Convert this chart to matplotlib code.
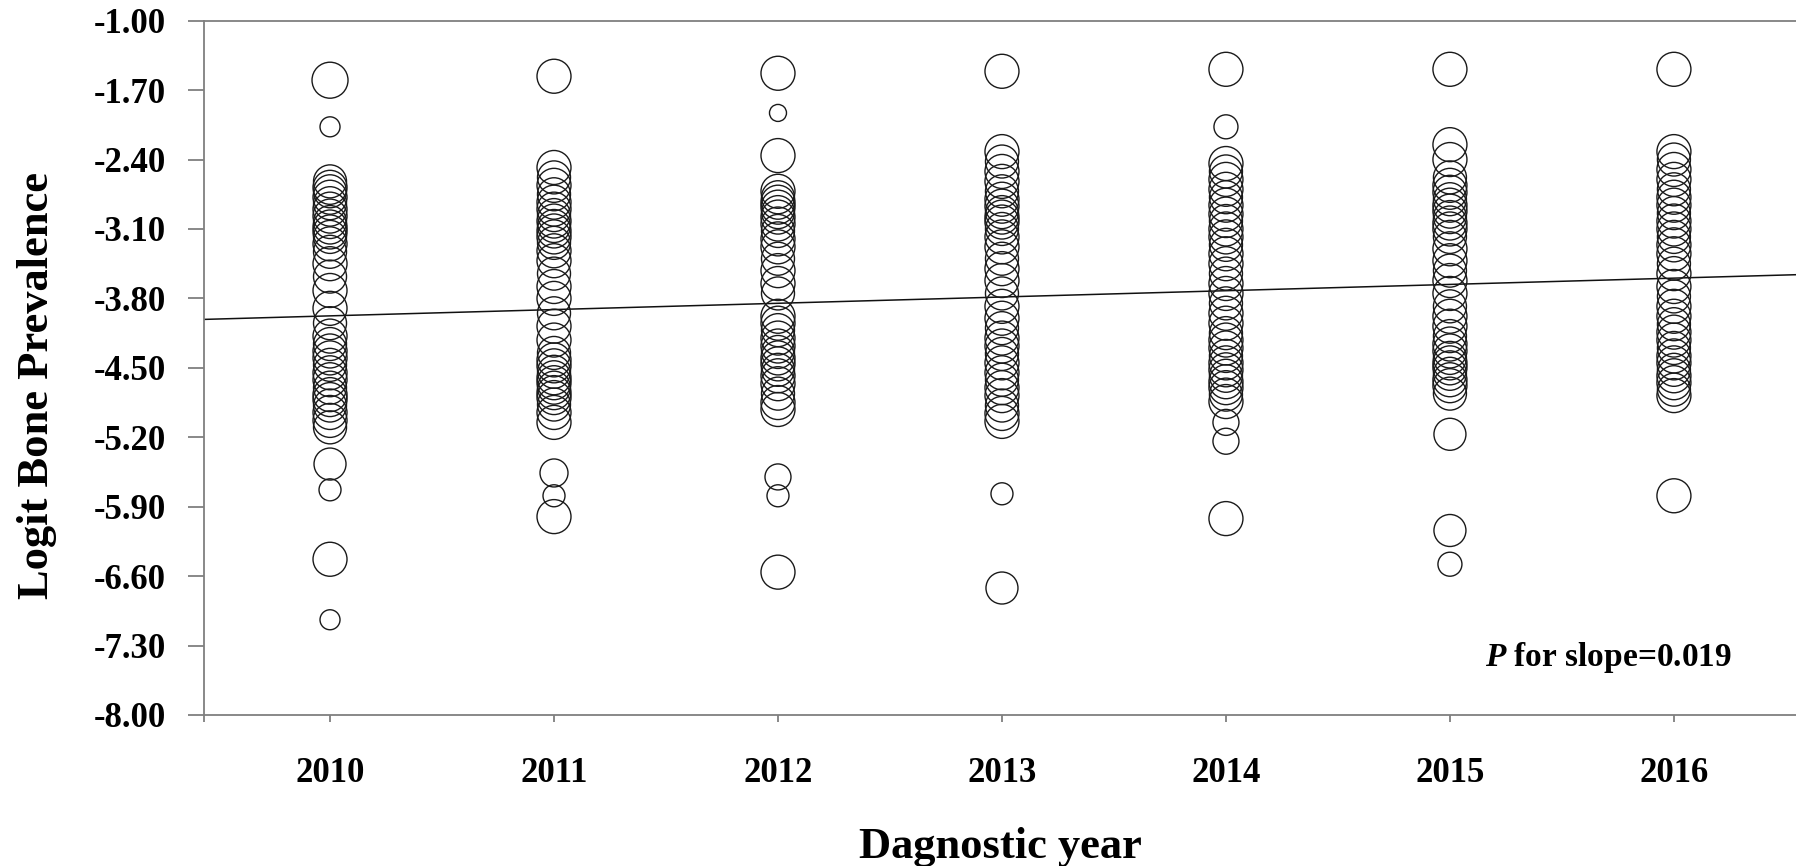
import matplotlib
matplotlib.use("Agg")
import matplotlib.pyplot as plt
import numpy as np

plt.rcParams['font.family'] = ['Liberation Serif', 'DejaVu Serif']
plt.rcParams['mathtext.fontset'] = 'custom'
plt.rcParams['mathtext.it'] = 'Liberation Serif:italic:bold'
plt.rcParams['mathtext.rm'] = 'Liberation Serif:bold'

# ---------------- data ----------------
years = [2010, 2011, 2012, 2013, 2014, 2015, 2016]

y2010 = [-1.60, -2.07, -2.62, -2.68, -2.72, -2.78, -2.84, -2.90, -2.97, -3.03, -3.08, -3.13,
         -3.18, -3.25, -3.33, -3.45, -3.58, -3.72, -3.90, -4.05, -4.18, -4.26, -4.33, -4.40,
         -4.47, -4.55, -4.62, -4.70, -4.77, -4.82, -4.88, -4.95, -5.03, -5.10,
         -5.47, -5.73, -6.43, -7.04]
w2010 = [36, 20, 33, 34, 33, 34, 33, 34, 34, 33, 34, 34,
         33, 34, 33, 34, 33, 34, 34, 33, 34, 33, 34, 34,
         33, 34, 34, 33, 34, 34, 33, 34, 34, 33,
         32, 22, 34, 20]

y2011 = [-1.56, -2.48, -2.58, -2.66, -2.75, -2.83, -2.90, -2.96, -3.02, -3.07, -3.12, -3.18,
         -3.24, -3.32, -3.42, -3.55, -3.68, -3.80, -3.95, -4.08, -4.22, -4.35, -4.42, -4.48,
         -4.54, -4.60, -4.65, -4.70, -4.75, -4.80, -4.87, -4.95, -5.05,
         -5.56, -5.79, -6.00]
w2011 = [34, 34, 33, 34, 33, 34, 34, 33, 34, 33, 34, 34,
         33, 34, 34, 33, 34, 34, 33, 34, 34, 33, 34, 34,
         33, 34, 34, 33, 34, 34, 33, 34, 34,
         28, 22, 34]

y2012 = [-1.53, -1.93, -2.36, -2.72, -2.78, -2.83, -2.88, -2.93, -2.98, -3.05, -3.12, -3.20,
         -3.28, -3.40, -3.52, -3.65, -3.75, -3.98, -4.05, -4.12, -4.20, -4.28, -4.34, -4.40,
         -4.46, -4.52, -4.58, -4.66, -4.76, -4.85, -4.92,
         -5.60, -5.79, -6.56]
w2012 = [34, 17, 34, 34, 33, 34, 34, 33, 34, 34, 33, 34,
         34, 33, 34, 34, 33, 34, 34, 33, 34, 34, 33, 34,
         34, 33, 34, 34, 33, 34, 34,
         26, 22, 34]

y2013 = [-1.51, -2.32, -2.42, -2.52, -2.62, -2.72, -2.80, -2.87, -2.93, -2.98, -3.03, -3.10,
         -3.18, -3.28, -3.40, -3.50, -3.62, -3.75, -3.88, -4.00, -4.10, -4.20, -4.28, -4.36,
         -4.45, -4.55, -4.62, -4.70, -4.78, -4.88, -4.96, -5.04,
         -5.77, -6.72]
w2013 = [34, 34, 33, 34, 34, 33, 34, 34, 33, 34, 34, 33,
         34, 34, 33, 34, 34, 33, 34, 34, 33, 34, 34, 33,
         34, 34, 33, 34, 34, 33, 34, 34,
         22, 32]

y2014 = [-1.49, -2.07, -2.44, -2.52, -2.60, -2.70, -2.78, -2.86, -2.95, -3.02, -3.10, -3.18,
         -3.26, -3.35, -3.45, -3.55, -3.65, -3.75, -3.85, -3.95, -4.05, -4.15, -4.22, -4.30,
         -4.38, -4.45, -4.52, -4.58, -4.64, -4.70, -4.77, -4.84,
         -5.05, -5.24, -6.02]
w2014 = [34, 24, 34, 33, 34, 34, 33, 34, 34, 33, 34, 34,
         33, 34, 34, 33, 34, 34, 33, 34, 34, 33, 34, 34,
         33, 34, 34, 33, 34, 34, 33, 34,
         26, 26, 34]

y2015 = [-1.49, -2.25, -2.40, -2.58, -2.66, -2.73, -2.80, -2.86, -2.92, -2.98, -3.04, -3.10,
         -3.18, -3.30, -3.42, -3.52, -3.62, -3.75, -3.88, -3.98, -4.08, -4.18, -4.26, -4.33,
         -4.40, -4.45, -4.50, -4.56, -4.62, -4.68, -4.76,
         -5.17, -6.14, -6.48]
w2015 = [34, 34, 34, 33, 34, 34, 33, 34, 34, 33, 34, 34,
         33, 34, 34, 33, 34, 34, 33, 34, 34, 33, 34, 34,
         33, 34, 34, 33, 34, 34, 33,
         32, 32, 24]

y2016 = [-1.49, -2.32, -2.40, -2.50, -2.60, -2.70, -2.78, -2.86, -2.94, -3.02, -3.10, -3.18,
         -3.26, -3.35, -3.45, -3.55, -3.68, -3.78, -3.88, -3.98, -4.06, -4.14, -4.22, -4.30,
         -4.38, -4.45, -4.52, -4.58, -4.65, -4.72, -4.78,
         -5.79]
w2016 = [34, 34, 33, 34, 34, 33, 34, 34, 33, 34, 34, 33,
         34, 34, 33, 34, 34, 33, 34, 34, 33, 34, 34, 33,
         34, 34, 33, 34, 34, 33, 34,
         34]

values = [y2010, y2011, y2012, y2013, y2014, y2015, y2016]
weights = [w2010, w2011, w2012, w2013, w2014, w2015, w2016]

fit_intercept = -3.976   # value at 2010
fit_slope = 0.0634       # per year

yticks = [-1.00, -1.70, -2.40, -3.10, -3.80, -4.50, -5.20, -5.90, -6.60, -7.30, -8.00]
annotation = r'$\mathit{P}$ for slope=0.019'

# ---------------- figure ----------------
fig = plt.figure(figsize=(17.96, 8.66), dpi=100)
ax = fig.add_axes([0.1136, 0.1744, 0.8864, 0.8017])

DPI = 100.0
for yr, vals, ws in zip(years, values, weights):
    s = [(w * 72.0 / DPI) ** 2 for w in ws]
    ax.scatter([yr] * len(vals), vals, s=s, facecolors='none',
               edgecolors='#1a1a1a', linewidths=1.0, zorder=3)

xlim = (2009.4375, 2016.545)
xs = np.array(xlim)
ax.plot(xs, fit_intercept + fit_slope * (xs - 2010), color='#111111', lw=1.1, zorder=2)

ax.set_xlim(*xlim)
ax.set_ylim(-8.0, -1.0)

ax.set_yticks(yticks)
ax.set_yticklabels([f'{v:.2f}' for v in yticks])
ax.set_xticks(years)
ax.set_xticklabels([str(y) for y in years])
ax.set_xticks([xlim[0]], minor=True)

spine_col = '#7f7f7f'
for side in ['left', 'top', 'bottom']:
    ax.spines[side].set_color(spine_col)
    ax.spines[side].set_linewidth(1.3)
ax.spines['right'].set_visible(False)

ax.tick_params(axis='y', direction='out', length=11.5, width=1.3, color=spine_col,
               pad=16, labelsize=25)
ax.tick_params(axis='x', which='major', direction='out', length=5, width=1.3, color=spine_col,
               pad=25, labelsize=25)
ax.tick_params(axis='x', which='minor', direction='out', length=5, width=1.3, color=spine_col)
for lab in ax.get_xticklabels() + ax.get_yticklabels():
    lab.set_fontweight('bold')

ax.set_xlabel('Dagnostic year', fontsize=32, fontweight='bold', labelpad=27)
ax.set_ylabel('Logit Bone Prevalence', fontsize=32, fontweight='bold', labelpad=26)
ax.yaxis.label.set_y(0.475)

ax.text(2016.26, -7.42, annotation, fontsize=24, fontweight='bold',
        ha='right', va='center')

fig.savefig('out.png', dpi=100)
